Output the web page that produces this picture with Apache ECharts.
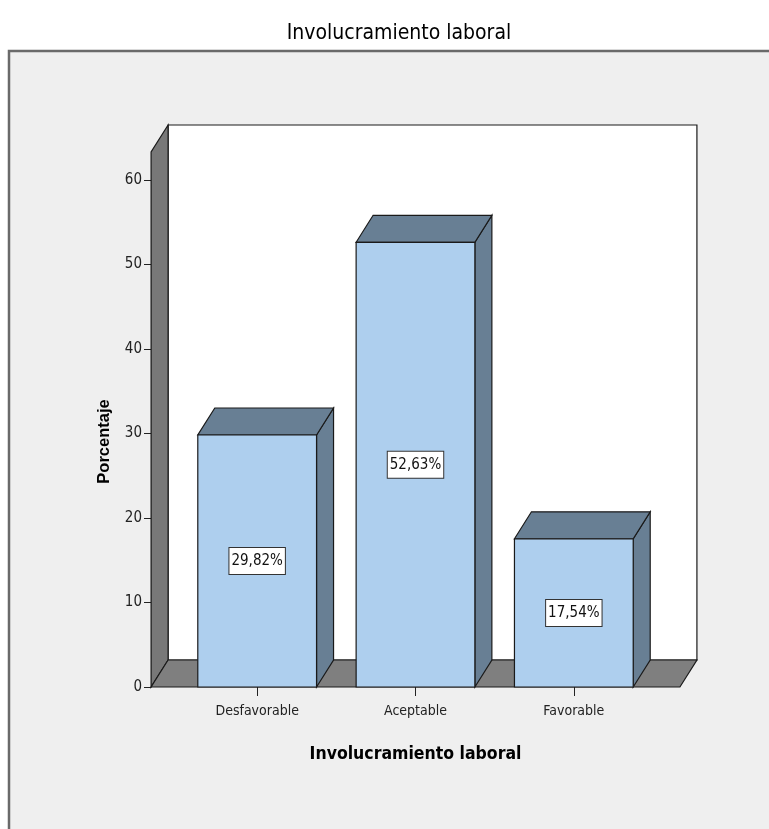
<!DOCTYPE html>
<html>
<head>
<meta charset="utf-8">
<style>
  html, body { margin: 0; padding: 0; background: #ffffff; }
  #chart { width: 769px; height: 829px; }
</style>
<script src="https://cdn.jsdelivr.net/npm/echarts@6/dist/echarts.min.js"></script>
</head>
<body>
<div id="chart"></div>
<script>
// Chart data
const categories = ['Desfavorable', 'Aceptable', 'Favorable'];
const percentages = [29.82, 52.63, 17.54];
const yTicks = { min: 0, max: 60, interval: 10 };

// Styling constants for the 3D look
const DEPTH_X = 17;          // horizontal depth offset (px)
const DEPTH_Y = -27;         // vertical depth offset (px)
const BAR_RATIO = 0.75;      // bar width as share of category band
const FLOOR_PAD = 0.67;      // floor margin beyond outer bars, in bands
const WALL_EXTRA = 28;       // wall height above the top tick (px)
const NARROW = "'Liberation Sans Narrow', 'Arial Narrow', 'DejaVu Sans Condensed', sans-serif";
const BOLD = "'Liberation Sans', Arial, sans-serif";

const C_FRONT = '#aecfee';
const C_SHADE = '#687f94';
const C_GREY = '#7f7f7f';
const C_EDGE = '#1a1a1a';

function fmtPct(v) {
  return v.toFixed(2).replace('.', ',') + '%';
}

const chart = echarts.init(document.getElementById('chart'), null, { renderer: 'canvas' });

// Back wall, left wall and floor of the 3D frame
function renderFrame(params, api) {
  const band = api.size([1, 0])[0];
  const c0 = api.coord([0, 0]);
  const cN = api.coord([categories.length - 1, 0]);
  const yTop = api.coord([0, yTicks.max])[1] - WALL_EXTRA;
  const x0 = c0[0] - band * FLOOR_PAD;
  const x1 = cN[0] + band * FLOOR_PAD;
  const y0 = c0[1];
  const lw = { stroke: C_EDGE, lineWidth: 1.2 };
  return {
    type: 'group',
    children: [
      { type: 'polygon', shape: { points: [[x0 + DEPTH_X, yTop + DEPTH_Y], [x1 + DEPTH_X, yTop + DEPTH_Y], [x1 + DEPTH_X, y0 + DEPTH_Y], [x0 + DEPTH_X, y0 + DEPTH_Y]] },
        style: Object.assign({ fill: '#ffffff' }, lw) },
      { type: 'polygon', shape: { points: [[x0, y0], [x0, yTop], [x0 + DEPTH_X, yTop + DEPTH_Y], [x0 + DEPTH_X, y0 + DEPTH_Y]] },
        style: Object.assign({ fill: '#787878' }, lw) },
      { type: 'polygon', shape: { points: [[x0, y0], [x1, y0], [x1 + DEPTH_X, y0 + DEPTH_Y], [x0 + DEPTH_X, y0 + DEPTH_Y]] },
        style: Object.assign({ fill: C_GREY }, lw) }
    ]
  };
}

// A single 3D bar with its value box
function renderBar(params, api) {
  const idx = api.value(0);
  const val = api.value(1);
  const base = api.coord([idx, 0]);
  const top = api.coord([idx, val]);
  const w = api.size([1, 0])[0] * BAR_RATIO;
  const xl = base[0] - w / 2, xr = base[0] + w / 2;
  const yb = base[1], yt = top[1];
  const lw = { stroke: C_EDGE, lineWidth: 1.2 };
  return {
    type: 'group',
    children: [
      { type: 'polygon', shape: { points: [[xr, yb], [xr, yt], [xr + DEPTH_X, yt + DEPTH_Y], [xr + DEPTH_X, yb + DEPTH_Y]] },
        style: Object.assign({ fill: C_SHADE }, lw) },
      { type: 'polygon', shape: { points: [[xl, yt], [xr, yt], [xr + DEPTH_X, yt + DEPTH_Y], [xl + DEPTH_X, yt + DEPTH_Y]] },
        style: Object.assign({ fill: C_SHADE }, lw) },
      { type: 'rect', shape: { x: xl, y: yt, width: w, height: yb - yt },
        style: Object.assign({ fill: C_FRONT }, lw) },
      { type: 'text', x: base[0], y: (yb + yt) / 2,
        style: { text: fmtPct(val), align: 'center', verticalAlign: 'middle',
          font: '15px ' + NARROW, fill: '#111',
          backgroundColor: '#ffffff', borderColor: '#333', borderWidth: 1,
          padding: [6, 2, 5, 2] } }
    ]
  };
}

const option = {
  animation: false,
  backgroundColor: '#ffffff',
  graphic: [
    { type: 'rect', z: -10, shape: { x: 9, y: 51, width: 900, height: 900 },
      style: { fill: '#efefef', stroke: '#6a6a6a', lineWidth: 2.5 } }
  ],
  title: {
    text: 'Involucramiento laboral',
    left: 394, top: 18, textAlign: 'center',
    textStyle: { fontFamily: NARROW, fontSize: 21, fontWeight: 'normal', color: '#000' }
  },
  grid: { left: 178, right: 116, top: 180, bottom: 142 },
  xAxis: {
    type: 'category',
    data: categories,
    name: 'Involucramiento laboral',
    nameLocation: 'middle',
    nameGap: 58,
    nameTextStyle: { fontFamily: NARROW, fontWeight: 'bold', fontSize: 17.5, color: '#000' },
    axisLine: { show: false },
    axisTick: { show: true, alignWithLabel: true, length: 9, lineStyle: { color: '#222', width: 1 } },
    axisLabel: { fontFamily: NARROW, fontSize: 14, color: '#222', margin: 17 },
    splitLine: { show: false }
  },
  yAxis: {
    type: 'value',
    min: yTicks.min, max: yTicks.max, interval: yTicks.interval,
    offset: 27,
    name: 'Porcentaje',
    nameLocation: 'middle',
    nameGap: 38,
    nameTextStyle: { fontFamily: BOLD, fontWeight: 'bold', fontSize: 16.5, color: '#000', padding: [0, 16, 0, 0] },
    axisLine: { show: true, lineStyle: { color: '#222', width: 1 } },
    axisTick: { show: true, length: 7, lineStyle: { color: '#222', width: 1 } },
    axisLabel: { fontFamily: NARROW, fontSize: 15, color: '#222', margin: 9 },
    splitLine: { show: false }
  },
  series: [
    { type: 'custom', name: 'frame', renderItem: renderFrame, data: [[0, 0]], clip: false, silent: true, z: 1 },
    { type: 'custom', name: 'Porcentaje', renderItem: renderBar,
      data: percentages.map((v, i) => [i, v]), clip: false, z: 2 }
  ]
};

chart.setOption(option);
</script>
</body>
</html>
